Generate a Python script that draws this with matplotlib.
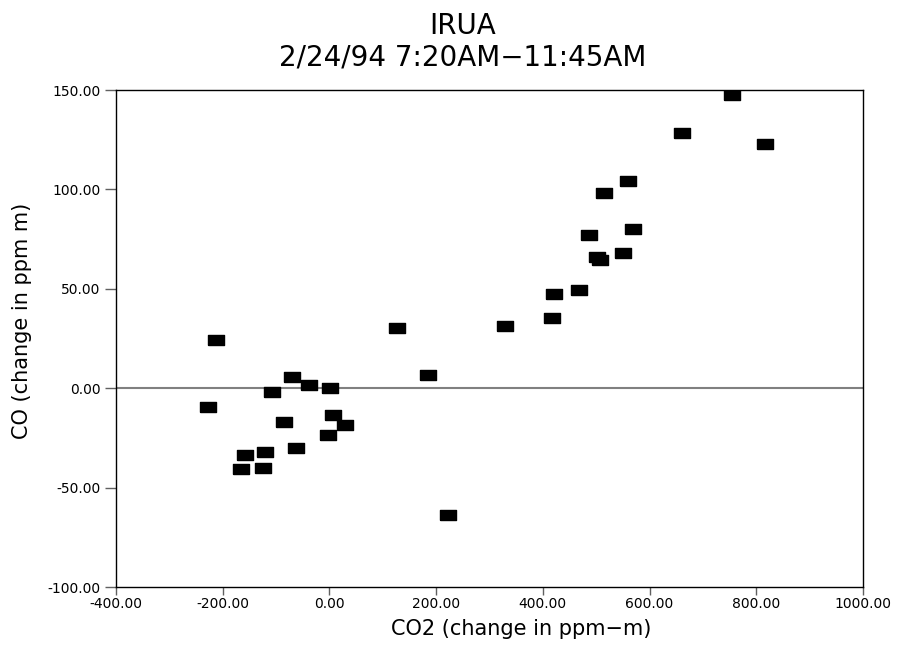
import matplotlib
matplotlib.use("Agg")
import matplotlib.pyplot as plt
import numpy as np

# CO2 vs CO
co2 = [754, 660, 816, 560, 515, 568, 486, 550, 502, 508, 468, 421, 418,
       126, 329, 185, 222,
       -212, -70, -39, 1, -108, -227, 6, 30, -86, -3, -62, -120, -158, -166, -124]
co = [147.5, 128.2, 122.7, 104.4, 98.3, 80.2, 76.9, 67.9, 66.0, 64.3, 49.2, 47.4, 35.3,
      30.3, 31.1, 6.6, -63.6,
      24.1, 5.8, 1.5, 0.3, -1.8, -9.3, -13.3, -18.5, -16.8, -23.7, -30.2, -32.1, -33.8, -40.6, -40.0]

x_ticks = [-400, -200, 0, 200, 400, 600, 800, 1000]
y_ticks = [-100, -50, 0, 50, 100, 150]

fig = plt.figure(figsize=(9, 6.46), dpi=100)
ax = fig.add_axes([0.1289, 0.0913, 0.830, 0.7693])

# flat rectangle marker like the original plot
rect = [(-1.5, -1), (1.5, -1), (1.5, 1), (-1.5, 1), (-1.5, -1)]
ax.axhline(0, color="#808080", lw=1.5, zorder=1)
ax.plot(co2, co, linestyle="none", marker=rect, ms=11, color="black", zorder=2)

ax.set_xlim(-400, 1000)
ax.set_ylim(-100, 150)
ax.set_xticks(x_ticks)
ax.set_yticks(y_ticks)
ax.set_xticklabels(["%.2f" % v for v in x_ticks])
ax.set_yticklabels(["%.2f" % v for v in y_ticks])
ax.tick_params(axis="x", direction="out", length=6, width=1, pad=1, labelsize=10, color="#606060")
ax.tick_params(axis="y", direction="out", length=8, width=1, pad=3, labelsize=10, color="#606060")
for s in ax.spines.values():
    s.set_linewidth(1)
    s.set_color("black")

ax.set_xlabel("CO2 (change in ppm\u2212m)", fontsize=15)
ax.xaxis.set_label_coords(0.543, -0.064)
ax.set_ylabel("CO (change in ppm m)", fontsize=15)
ax.yaxis.set_label_coords(-0.112, 0.535)

fig.text(0.514, 0.947, "IRUA", ha="center", va="baseline", fontsize=20)
fig.text(0.514, 0.899, "2/24/94 7:20AM\u221211:45AM", ha="center", va="baseline", fontsize=20)

fig.savefig("out.png", dpi=100)
